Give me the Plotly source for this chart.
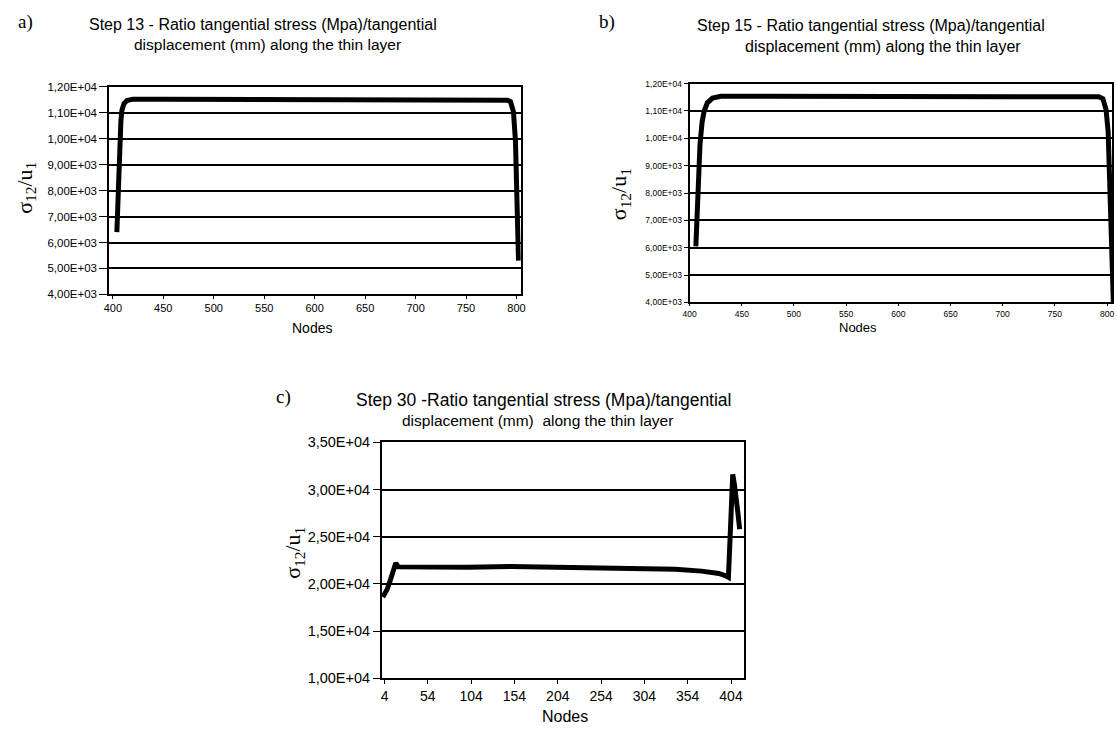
import plotly.graph_objects as go

# ---------------- data ----------------
# Panel a) Step 13
a_nodes = [404, 405, 406, 407, 408, 409, 411, 414, 420, 450, 500, 550, 600, 650, 700, 750, 785, 791, 794, 797, 799, 800, 801, 802]
a_vals = [6400, 7800, 9000, 10000, 10700, 11100, 11350, 11480, 11530, 11530, 11530, 11525, 11525, 11520,
          11520, 11515, 11510, 11490, 11440, 11050, 9900, 8800, 7400, 5300]
a_xticks = [400, 450, 500, 550, 600, 650, 700, 750, 800]
a_yticks = [4000, 5000, 6000, 7000, 8000, 9000, 10000, 11000, 12000]
a_yticktext = ["4,00E+03", "5,00E+03", "6,00E+03", "7,00E+03", "8,00E+03", "9,00E+03", "1,00E+04", "1,10E+04", "1,20E+04"]

# Panel b) Step 15
b_nodes = [406, 407, 408, 409, 410, 412, 414, 417, 422, 430, 450, 500, 550, 600, 650, 700, 750, 785, 792, 796, 799, 801, 803, 804, 806]
b_vals = [6050, 7000, 8000, 9000, 9800, 10600, 11000, 11300, 11470, 11540, 11540, 11540, 11540, 11540,
          11540, 11540, 11540, 11540, 11520, 11450, 11050, 10250, 8200, 6500, 4000]
b_xticks = [400, 450, 500, 550, 600, 650, 700, 750, 800]
b_yticks = a_yticks
b_yticktext = a_yticktext

# Panel c) Step 30
c_nodes = [2, 4, 7, 10, 13, 15, 17, 20, 50, 100, 150, 200, 250, 300, 340, 370, 390, 398, 401, 403, 405, 406, 408, 410, 412, 414]
c_vals = [18600, 18900, 19400, 20200, 21100, 21800, 22200, 21800, 21750, 21750, 21850, 21750, 21650, 21600,
          21550, 21350, 21100, 20850, 20700, 25000, 30000, 31600, 30500, 29300, 27500, 25800]
c_xticks = [4, 54, 104, 154, 204, 254, 304, 354, 404]
c_yticks = [10000, 15000, 20000, 25000, 30000, 35000]
c_yticktext = ["1,00E+04", "1,50E+04", "2,00E+04", "2,50E+04", "3,00E+04", "3,50E+04"]

Y_LABEL = "σ<sub>12</sub>/u<sub>1</sub>"

# ---------------- layout helpers ----------------
W, H = 1117, 739


def px(x):
    return x / W


def py(y):
    return 1 - y / H


SANS = "Liberation Sans, Arial, sans-serif"
SERIF = "Liberation Serif, Times New Roman, serif"

fig = go.Figure()
fig.add_trace(go.Scatter(x=a_nodes, y=a_vals, xaxis="x", yaxis="y", mode="lines",
                         line=dict(color="black", width=5), showlegend=False))
fig.add_trace(go.Scatter(x=b_nodes, y=b_vals, xaxis="x2", yaxis="y2", mode="lines",
                         line=dict(color="black", width=5), showlegend=False))
fig.add_trace(go.Scatter(x=c_nodes, y=c_vals, xaxis="x3", yaxis="y3", mode="lines",
                         line=dict(color="black", width=5), showlegend=False))


def xax(dom, rng, ticks, size, anchor, ticklen=4):
    return dict(domain=dom, range=rng, tickvals=ticks, ticks="outside", ticklen=ticklen, tickwidth=1.3,
                tickcolor="black", showline=True, mirror=True, linecolor="black", linewidth=1.8,
                showgrid=False, zeroline=False, anchor=anchor,
                tickfont=dict(family=SANS, size=size, color="black"))


def yax(dom, rng, ticks, text, size, anchor, ticklen):
    return dict(domain=dom, range=rng, tickvals=ticks, ticktext=text, ticks="outside", ticklen=ticklen,
                tickwidth=1.3, tickcolor="black", showline=True, mirror=True, linecolor="black",
                linewidth=1.8, showgrid=True, gridcolor="black", gridwidth=1.5, zeroline=False,
                anchor=anchor, tickfont=dict(family=SANS, size=size, color="black"))


fig.update_layout(
    width=W, height=H, margin=dict(l=0, r=0, t=0, b=0),
    paper_bgcolor="white", plot_bgcolor="white", showlegend=False,
    xaxis=xax([px(103.3), px(519.3)], [396.4, 804.2], a_xticks, 11, "y", 3),
    yaxis=yax([py(292.7), py(80.7)], [4000, 12000], a_yticks, a_yticktext, 11.5, "x", 8),
    xaxis2=xax([px(690), 1.0], [400, 804.7], b_xticks, 8.5, "y2", 2),
    yaxis2=yax([py(301), py(77.3)], [4000, 12000], b_yticks, b_yticktext, 8.5, "x2", 4),
    xaxis3=xax([px(379), px(745)], [1, 419], c_xticks, 14, "y3"),
    yaxis3=yax([py(685), py(444)], [10000, 35000], c_yticks, c_yticktext, 14.5, "x3", 7),
)

ann = []


def text(x, y, s, size, family=SANS, angle=0, xanchor="center"):
    ann.append(dict(x=px(x), y=py(y), xref="paper", yref="paper", text=s, showarrow=False,
                    xanchor=xanchor, yanchor="middle", textangle=angle,
                    font=dict(family=family, size=size, color="black")))


# panel a
text(19, 14, "a)", 19, SERIF)
text(259, 17, "Step 13 - Ratio tangential stress (Mpa)/tangential", 16)
text(263, 37, "displacement (mm) along the thin layer", 15.5)
text(19, 184, Y_LABEL, 22, SERIF, -90)
text(308, 327, "Nodes", 14)

# panel b
text(607, 14, "b)", 19, SERIF)
text(873, 18, "Step 15 - Ratio tangential stress (Mpa)/tangential", 16)
text(886, 39, "displacement (mm) along the thin layer", 16)
text(620, 190, Y_LABEL, 22, SERIF, -90)
text(860, 327, "Nodes", 13)

# panel c
text(279, 398, "c)", 19, SERIF)
text(542, 401, "Step 30 -Ratio tangential stress (Mpa)/tangential", 17.5)
text(536, 422, "displacement (mm)  along the thin layer", 15.5)
text(290, 557, Y_LABEL, 22, SERIF, -90)
text(564, 724, "Nodes", 16)

fig.update_layout(annotations=ann)
fig.write_html("out.html")
